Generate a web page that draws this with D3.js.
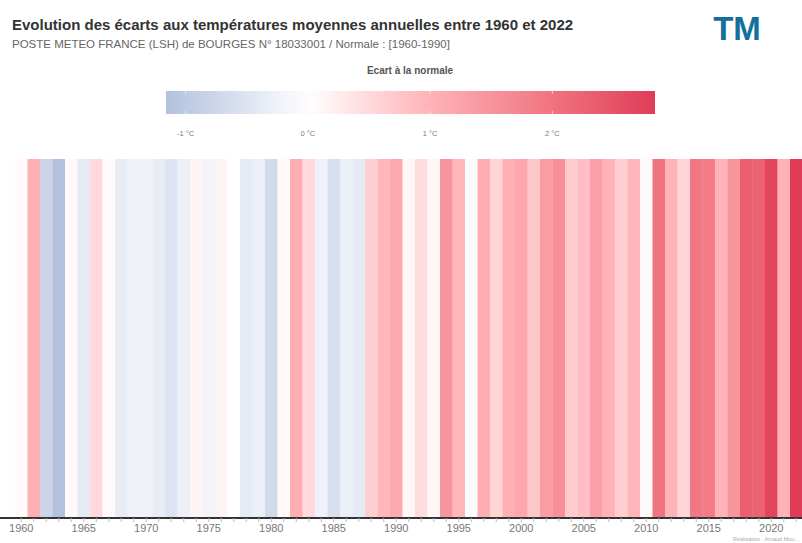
<!DOCTYPE html>
<html lang="fr">
<head>
<meta charset="utf-8">
<title>Warming stripes Bourges</title>
<script src="https://d3js.org/d3.v7.min.js"></script>
<style>
  body { margin: 0; background: #fff; }
  svg { display: block; font-family: "Liberation Sans", Arial, sans-serif; }
</style>
</head>
<body>
<script>
// annees et ecarts a la normale (°C)
var years = d3.range(1960, 2023);
var anomalies = [
  0.05, 1.05, -0.8, -1.16, 0.08, -0.4, 0.5, 0.05, -0.35, -0.25,
  -0.25, -0.35, -0.5, -0.3, 0.15, -0.2, 0.15, 0.0, -0.4, -0.3,
  -0.7, 0.08, 1.1, 0.5, -0.25, -0.6, -0.3, -0.4, 0.65, 0.95,
  1.15, 0.1, 0.45, 0.12, 1.5, 0.95, -0.1, 1.1, 0.55, 1.05,
  1.2, 0.75, 1.35, 1.55, 0.7, 0.85, 1.3, 1.0, 0.65, 0.95,
  0.08, 2.0, 1.0, 0.55, 1.95, 1.85, 1.0, 1.5, 2.3, 2.25,
  2.7, 1.0, 2.84
];
var legendTicks = [-1, 0, 1, 2];
var colorStops = [-1.16, 0, 1, 2, 2.84];
var colorRange = ["#b3c1de", "#ffffff", "#ffb3b8", "#f0747f", "#e03c58"];

var w = 802, h = 543;
var svg = d3.select("body").append("svg").attr("width", w).attr("height", h);

var color = d3.scaleLinear().domain(colorStops).range(colorRange).interpolate(d3.interpolateRgb);

// titres
svg.append("text").attr("x", 12).attr("y", 30)
  .attr("font-size", 15).attr("font-weight", "bold").attr("fill", "#333")
  .text("Evolution des écarts aux températures moyennes annuelles entre 1960 et 2022");
svg.append("text").attr("x", 12).attr("y", 48)
  .attr("font-size", 11.5).attr("fill", "#666")
  .text("POSTE METEO FRANCE (LSH) de BOURGES N° 18033001 / Normale : [1960-1990]");

// logo
svg.append("text").attr("x", 737).attr("y", 40).attr("text-anchor", "middle")
  .attr("font-size", 33).attr("font-weight", "bold").attr("fill", "#136f9b")
  .text("TM");

// legende
var lx = d3.scaleLinear().domain([-1.16, 2.84]).range([166, 655]);
var grad = svg.append("defs").append("linearGradient").attr("id", "grad");
d3.range(0, 1.0001, 0.05).forEach(function(t) {
  var v = lx.domain()[0] + t * (lx.domain()[1] - lx.domain()[0]);
  grad.append("stop").attr("offset", (t * 100) + "%").attr("stop-color", color(v));
});
svg.append("text").attr("x", 410).attr("y", 74).attr("text-anchor", "middle")
  .attr("font-size", 10).attr("font-weight", "bold").attr("fill", "#555")
  .text("Ecart à la normale");
svg.append("rect").attr("x", lx(-1.16)).attr("y", 91)
  .attr("width", lx(2.84) - lx(-1.16)).attr("height", 23)
  .attr("fill", "url(#grad)");
svg.selectAll(".ltick").data(legendTicks).enter().append("line")
  .attr("x1", function(d) { return lx(d); }).attr("x2", function(d) { return lx(d); })
  .attr("y1", 91).attr("y2", 94).attr("stroke", "#fff").attr("stroke-opacity", 0.6);
svg.selectAll(".ltick2").data(legendTicks).enter().append("line")
  .attr("x1", function(d) { return lx(d); }).attr("x2", function(d) { return lx(d); })
  .attr("y1", 111).attr("y2", 114).attr("stroke", "#fff").attr("stroke-opacity", 0.6);
svg.selectAll(".llab").data(legendTicks).enter().append("text")
  .attr("x", function(d) { return lx(d); }).attr("y", 136)
  .attr("text-anchor", "middle").attr("font-size", 7.5).attr("fill", "#777")
  .text(function(d) { return d + " °C"; });

// bandes
var x = d3.scaleBand().domain(years).range([15, 15 + 12.5 * years.length]).padding(0);
var yTop = 159, yBottom = 518;
svg.selectAll(".stripe").data(years).enter().append("rect")
  .attr("class", "stripe")
  .attr("x", function(d) { return x(d); })
  .attr("y", yTop)
  .attr("width", x.bandwidth() + 0.3)
  .attr("height", yBottom - yTop)
  .attr("fill", function(d, i) { return color(anomalies[i]); });

// axe x
var xAxis = d3.axisBottom(x).tickSize(4).tickFormat(function(d) { return d % 5 === 0 ? d : ""; });
var gx = svg.append("g").attr("transform", "translate(0," + yBottom + ")").call(xAxis);
gx.select(".domain").attr("stroke", "#333").attr("stroke-width", 2).attr("d", "M0,0H" + w);
gx.selectAll(".tick line").attr("stroke", "#bbb");
gx.selectAll(".tick text").attr("fill", "#777").attr("font-size", 11)
  .attr("font-family", "Liberation Sans, Arial, sans-serif").attr("dy", "0.65em");

svg.append("text").attr("x", 799).attr("y", 541).attr("text-anchor", "end")
  .attr("font-size", 5.5).attr("fill", "#aaa")
  .text("Réalisation : Arnaud Mou...");
</script>
</body>
</html>
